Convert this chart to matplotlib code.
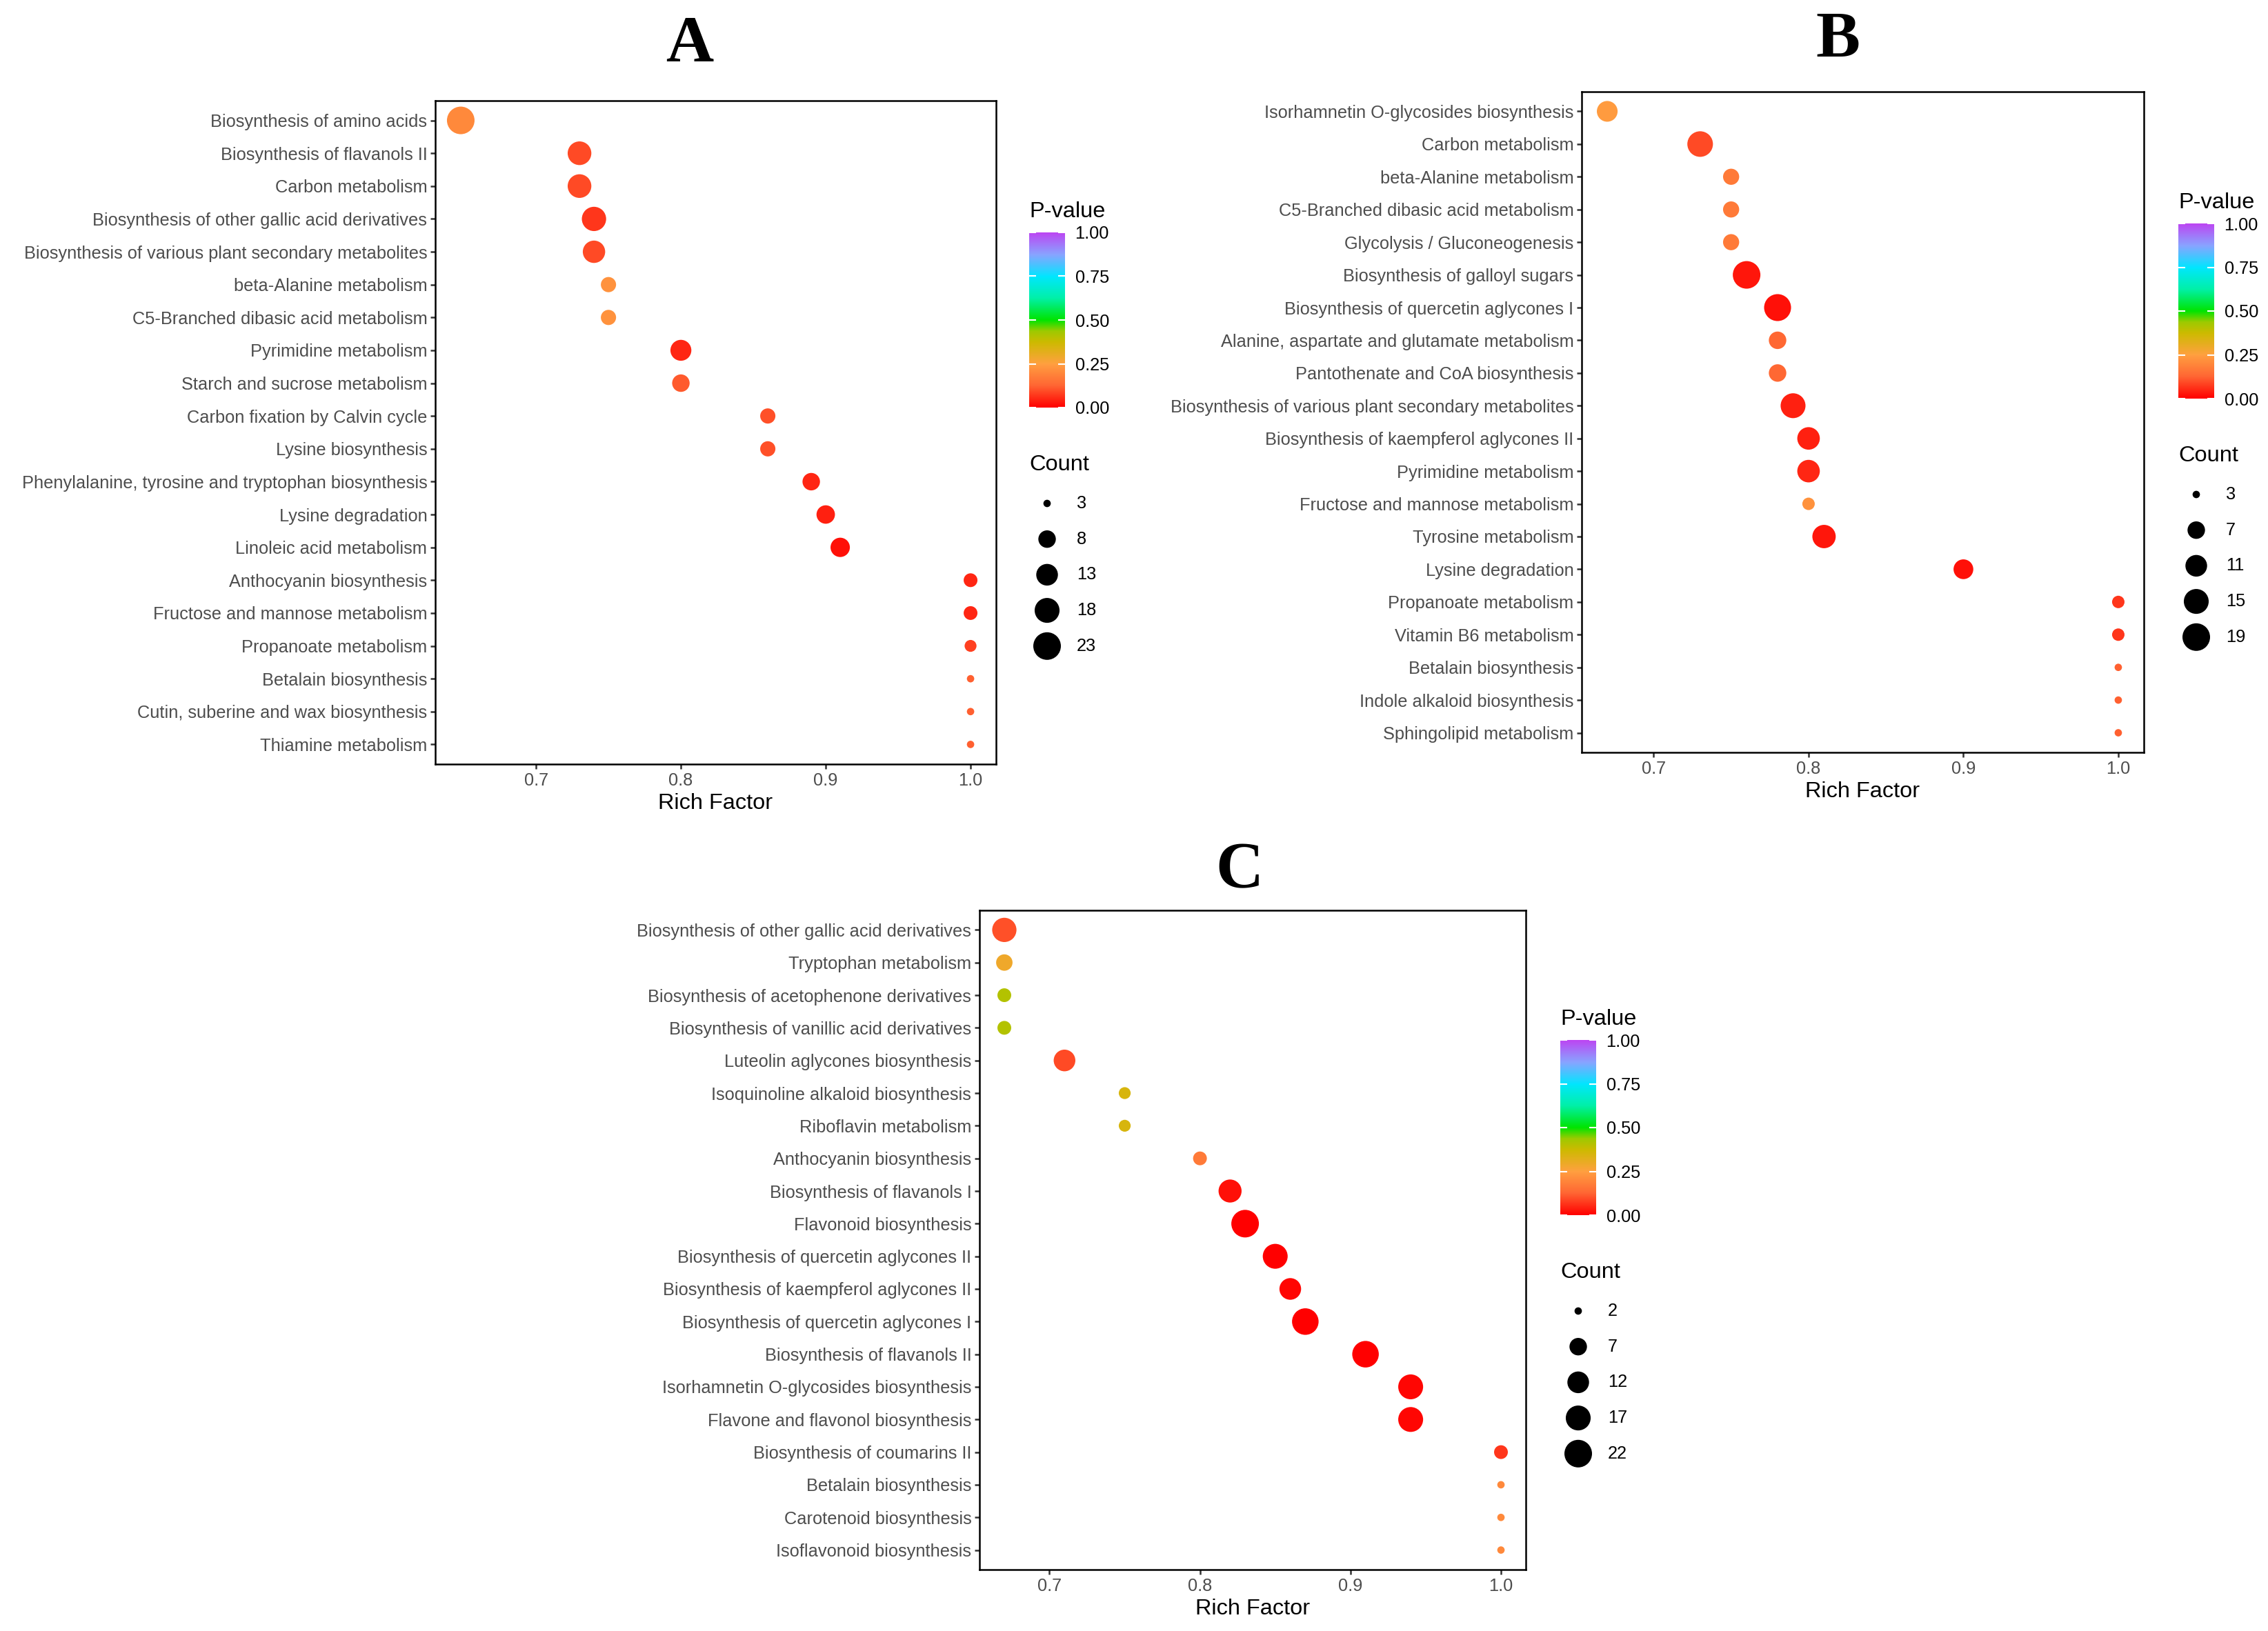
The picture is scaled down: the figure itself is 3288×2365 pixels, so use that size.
import numpy as np
import matplotlib
matplotlib.use("Agg")
import matplotlib.pyplot as plt
from matplotlib.colors import LinearSegmentedColormap, Normalize
from matplotlib.cm import ScalarMappable

W, H, DPI = 3288, 2365, 300
plt.rcParams['font.family'] = ['Liberation Sans', 'DejaVu Sans']

# ---- panel A ----
names_a = ["Biosynthesis of amino acids", "Biosynthesis of flavanols II", "Carbon metabolism",
           "Biosynthesis of other gallic acid derivatives",
           "Biosynthesis of various plant secondary metabolites", "beta-Alanine metabolism",
           "C5-Branched dibasic acid metabolism", "Pyrimidine metabolism",
           "Starch and sucrose metabolism", "Carbon fixation by Calvin cycle",
           "Lysine biosynthesis", "Phenylalanine, tyrosine and tryptophan biosynthesis",
           "Lysine degradation", "Linoleic acid metabolism", "Anthocyanin biosynthesis",
           "Fructose and mannose metabolism", "Propanoate metabolism", "Betalain biosynthesis",
           "Cutin, suberine and wax biosynthesis", "Thiamine metabolism"]
rich_a = [0.648, 0.73, 0.73, 0.74, 0.74, 0.75, 0.75, 0.80, 0.80, 0.86,
          0.86, 0.89, 0.90, 0.91, 1.0, 1.0, 1.0, 1.0, 1.0, 1.0]
count_a = [23, 16, 16, 17, 14, 6, 6, 12, 8, 6, 6, 8, 9, 10, 5, 5, 4, 3, 3, 3]
pval_a = [0.20, 0.09, 0.09, 0.07, 0.09, 0.22, 0.22, 0.05, 0.11, 0.10,
          0.10, 0.05, 0.04, 0.02, 0.05, 0.05, 0.08, 0.12, 0.12, 0.12]
breaks_a = [3, 8, 13, 18, 23]

# ---- panel B ----
names_b = ["Isorhamnetin O-glycosides biosynthesis", "Carbon metabolism", "beta-Alanine metabolism",
           "C5-Branched dibasic acid metabolism", "Glycolysis / Gluconeogenesis",
           "Biosynthesis of galloyl sugars", "Biosynthesis of quercetin aglycones I",
           "Alanine, aspartate and glutamate metabolism", "Pantothenate and CoA biosynthesis",
           "Biosynthesis of various plant secondary metabolites",
           "Biosynthesis of kaempferol aglycones II", "Pyrimidine metabolism",
           "Fructose and mannose metabolism", "Tyrosine metabolism", "Lysine degradation",
           "Propanoate metabolism", "Vitamin B6 metabolism", "Betalain biosynthesis",
           "Indole alkaloid biosynthesis", "Sphingolipid metabolism"]
rich_b = [0.67, 0.73, 0.75, 0.75, 0.75, 0.76, 0.78, 0.78, 0.78, 0.79,
          0.80, 0.80, 0.80, 0.81, 0.90, 1.0, 1.0, 1.0, 1.0, 1.0]
count_b = [10, 16, 6, 6, 6, 19, 18, 7, 7, 15, 12, 12, 4, 13, 9, 4, 4, 3, 3, 3]
pval_b = [0.24, 0.09, 0.17, 0.17, 0.17, 0.03, 0.02, 0.13, 0.13, 0.04,
          0.04, 0.05, 0.22, 0.03, 0.02, 0.07, 0.07, 0.12, 0.12, 0.12]
breaks_b = [3, 7, 11, 15, 19]

# ---- panel C ----
names_c = ["Biosynthesis of other gallic acid derivatives", "Tryptophan metabolism",
           "Biosynthesis of acetophenone derivatives", "Biosynthesis of vanillic acid derivatives",
           "Luteolin aglycones biosynthesis", "Isoquinoline alkaloid biosynthesis",
           "Riboflavin metabolism", "Anthocyanin biosynthesis", "Biosynthesis of flavanols I",
           "Flavonoid biosynthesis", "Biosynthesis of quercetin aglycones II",
           "Biosynthesis of kaempferol aglycones II", "Biosynthesis of quercetin aglycones I",
           "Biosynthesis of flavanols II", "Isorhamnetin O-glycosides biosynthesis",
           "Flavone and flavonol biosynthesis", "Biosynthesis of coumarins II",
           "Betalain biosynthesis", "Carotenoid biosynthesis", "Isoflavonoid biosynthesis"]
rich_c = [0.67, 0.67, 0.67, 0.67, 0.71, 0.75, 0.75, 0.80, 0.82, 0.83,
          0.85, 0.86, 0.87, 0.91, 0.94, 0.94, 1.0, 1.0, 1.0, 1.0]
count_c = [16, 6, 4, 4, 12, 3, 3, 4, 14, 22, 17, 12, 20, 20, 17, 17, 4, 2, 2, 2]
pval_c = [0.10, 0.29, 0.41, 0.41, 0.09, 0.35, 0.35, 0.17, 0.02, 0.0,
          0.0, 0.01, 0.0, 0.0, 0.01, 0.01, 0.07, 0.20, 0.20, 0.20]
breaks_c = [2, 7, 12, 17, 22]

# gradient red -> orange -> green -> cyan -> purple (Lab-like blending)
pval_cmap = LinearSegmentedColormap.from_list("pval", [
    (0.0, "#FF0000"), (0.125, "#FF6633"), (0.25, "#FFA040"), (0.375, "#CCBA00"),
    (0.4375, "#9CCA00"), (0.5, "#00E400"), (0.625, "#00F0A8"), (0.75, "#00E6FF"),
    (0.875, "#88A4FF"), (1.0, "#BC45F2")])
norm = Normalize(0, 1)

fig = plt.figure(figsize=(W / DPI, H / DPI), dpi=DPI)
overlay = fig.add_axes([0, 0, 1, 1])
overlay.set_xlim(0, W)
overlay.set_ylim(H, 0)
overlay.axis('off')


def px2pt(px):
    return px * 72 / DPI


def dot_area(counts, lo, hi):
    c = np.clip(np.asarray(counts, float), lo, None)
    d = 10.7 + 29.3 * np.sqrt((c - lo) / (hi - lo))
    return px2pt(d) ** 2


def frac(l, t, r, b):
    return [l / W, 1 - b / H, (r - l) / W, (b - t) / H]


def panel(letter, names, rich, count, pval, breaks, box, title_xy, bar_lt):
    ax = fig.add_axes(frac(*box))
    y = np.arange(len(names))
    ax.scatter(rich, y, s=dot_area(count, breaks[0], breaks[-1]), c=pval,
               cmap=pval_cmap, norm=norm, linewidths=0, zorder=3)
    lo, hi = min(rich), max(rich)
    pad = (hi - lo) * 0.05
    ax.set_xlim(lo - pad, hi + pad)
    ax.set_ylim(len(names) - 0.4, -0.6)
    ax.set_xticks([0.7, 0.8, 0.9, 1.0])
    ax.set_yticks(y)
    ax.set_yticklabels(names)
    ax.tick_params(axis='both', length=1.6, width=0.6, color='#333333',
                   labelsize=6.1, labelcolor='#4D4D4D', pad=1.2)
    for sp in ax.spines.values():
        sp.set_linewidth(0.6)
        sp.set_color('black')
    ax.set_xlabel("Rich Factor", fontsize=7.8, labelpad=1.5)

    overlay.text(title_xy[0], title_xy[1], letter, ha='center', va='baseline',
                 fontsize=23, family='Liberation Serif', weight='bold')

    # colour bar
    bl, bt = bar_lt
    bw, bh = 52, 254
    cax = fig.add_axes(frac(bl, bt, bl + bw, bt + bh))
    cb = fig.colorbar(ScalarMappable(norm=norm, cmap=pval_cmap), cax=cax,
                      ticks=[0, 0.25, 0.5, 0.75, 1.0])
    cb.ax.set_yticklabels(["0.00", "0.25", "0.50", "0.75", "1.00"])
    cb.outline.set_visible(False)
    cax.tick_params(direction='in', length=2.4, width=0.5, color='white',
                    left=True, right=True, labelsize=6.1, pad=3.5)
    overlay.text(bl, bt - 30, "P-value", ha='left', va='center', fontsize=7.8)

    # size legend
    ty = bt + bh + 83
    overlay.text(bl, ty, "Count", ha='left', va='center', fontsize=7.8)
    ey = ty + 56 + 51.7 * np.arange(len(breaks))
    overlay.scatter(np.full(len(breaks), bl + 26), ey,
                    s=dot_area(breaks, breaks[0], breaks[-1]), c='black', linewidths=0)
    for yy, b in zip(ey, breaks):
        overlay.text(bl + 69, yy, str(b), ha='left', va='center', fontsize=6.1)


panel("A", names_a, rich_a, count_a, pval_a, breaks_a,
      (631, 146, 1444, 1108), (1000, 89), (1492, 337))
panel("B", names_b, rich_b, count_b, pval_b, breaks_b,
      (2293, 133, 3108, 1091), (2664, 83), (3158, 324))
panel("C", names_c, rich_c, count_c, pval_c, breaks_c,
      (1420, 1320, 2212, 2276), (1797, 1287), (2262, 1508))

fig.savefig("out.png", dpi=DPI)
